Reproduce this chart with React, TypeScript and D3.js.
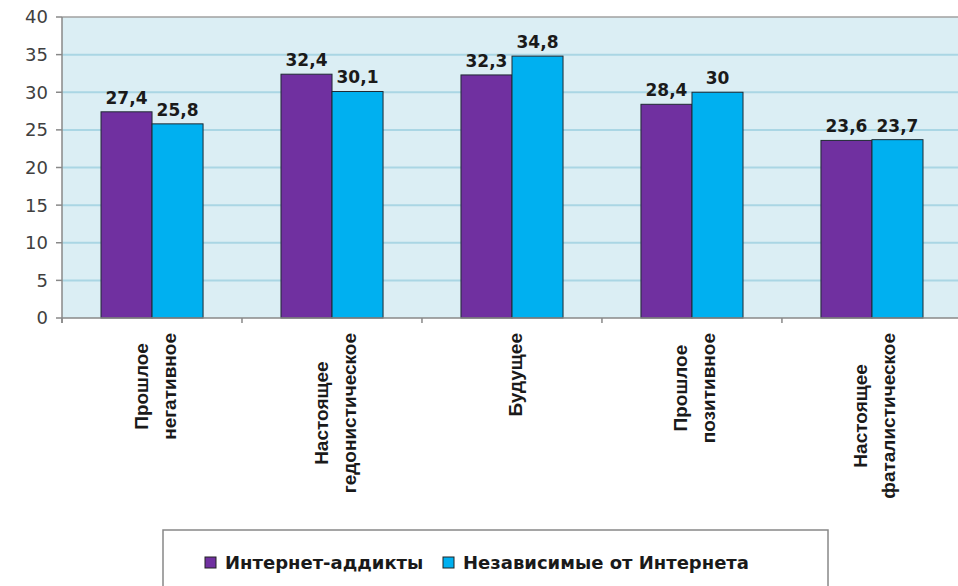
import React, { useEffect, useRef } from 'react';
import * as d3 from 'd3';

// categories (multi-line labels) and the two series
const categories = ['Прошлое негативное', 'Настоящее гедонистическое', 'Будущее', 'Прошлое позитивное', 'Настоящее фаталистическое'];
const categoryLines = [['Прошлое', 'негативное'], ['Настоящее', 'гедонистическое'], ['Будущее'], ['Прошлое', 'позитивное'], ['Настоящее', 'фаталистическое']];
const seriesNames = ['Интернет-аддикты', 'Независимые от Интернета'];
const addicts = [27.4, 32.4, 32.3, 28.4, 23.6];
const independent = [25.8, 30.1, 34.8, 30, 23.7];
const yTicks = [0, 5, 10, 15, 20, 25, 30, 35, 40];
const colors = ['#7030a0', '#00b0f0'];

const FONT = '"DejaVu Sans", Verdana, sans-serif';
const NARROW = '"Liberation Sans", Arial, sans-serif';

const App = () => {
  const svgRef = useRef(null);

  useEffect(() => {
    const width = 958;
    const height = 586;
    const left = 62;
    const top = 17;
    const bottom = 318;

    const svg = d3.select(svgRef.current);
    svg.selectAll('*').remove();
    svg.attr('width', width).attr('height', height);

    const x0 = d3.scaleBand()
      .domain(categories)
      .range([left, left + 180 * categories.length])
      .paddingInner(0.433)
      .paddingOuter(0.2167);

    const x1 = d3.scaleBand()
      .domain(seriesNames)
      .range([0, x0.bandwidth()]);

    const y = d3.scaleLinear()
      .domain([0, 40])
      .range([bottom, top]);

    // plot background
    svg.append('rect')
      .attr('x', left)
      .attr('y', top)
      .attr('width', width - left)
      .attr('height', bottom - top)
      .attr('fill', '#dbeef4');

    // gridlines
    svg.append('g')
      .selectAll('line')
      .data(yTicks.filter(d => d > 0 && d < 40))
      .enter()
      .append('line')
      .attr('x1', left)
      .attr('x2', width)
      .attr('y1', d => y(d))
      .attr('y2', d => y(d))
      .attr('stroke', '#aad6e4')
      .attr('stroke-width', 2);

    // top border
    svg.append('line')
      .attr('x1', left).attr('x2', width)
      .attr('y1', y(40)).attr('y2', y(40))
      .attr('stroke', '#a0a0a0').attr('stroke-width', 1.5);

    // y axis
    const yAxis = svg.append('g');
    yAxis.append('line')
      .attr('x1', left).attr('x2', left)
      .attr('y1', y(40)).attr('y2', y(0) + 5)
      .attr('stroke', '#888').attr('stroke-width', 1.5);
    yAxis.selectAll('.tick')
      .data(yTicks)
      .enter()
      .append('line')
      .attr('x1', left - 6).attr('x2', left)
      .attr('y1', d => y(d)).attr('y2', d => y(d))
      .attr('stroke', '#888').attr('stroke-width', 1.5);
    yAxis.selectAll('.lbl')
      .data(yTicks)
      .enter()
      .append('text')
      .attr('x', left - 14)
      .attr('y', d => y(d))
      .attr('dy', '0.36em')
      .attr('text-anchor', 'end')
      .attr('font-family', FONT)
      .attr('font-size', 18)
      .attr('fill', '#404040')
      .text(d => d);

    // bars
    const rows = categories.map((c, i) => ({ cat: c, values: [addicts[i], independent[i]] }));
    const groups = svg.append('g')
      .selectAll('g')
      .data(rows)
      .enter()
      .append('g')
      .attr('transform', d => `translate(${x0(d.cat)},0)`);

    groups.selectAll('rect')
      .data(d => d.values.map((v, k) => ({ name: seriesNames[k], v, k })))
      .enter()
      .append('rect')
      .attr('x', d => x1(d.name))
      .attr('y', d => y(d.v))
      .attr('width', x1.bandwidth())
      .attr('height', d => y(0) - y(d.v))
      .attr('fill', d => colors[d.k])
      .attr('stroke', '#1f2a33')
      .attr('stroke-width', 1);

    groups.selectAll('text')
      .data(d => d.values.map((v, k) => ({ name: seriesNames[k], v, k })))
      .enter()
      .append('text')
      .attr('x', d => x1(d.name) + x1.bandwidth() / 2)
      .attr('y', d => y(d.v) - 8)
      .attr('text-anchor', 'middle')
      .attr('font-family', FONT)
      .attr('font-weight', 'bold')
      .attr('font-size', 17)
      .attr('fill', '#1a1a1a')
      .text(d => String(d.v).replace('.', ','));

    // x axis
    svg.append('line')
      .attr('x1', left).attr('x2', width)
      .attr('y1', y(0)).attr('y2', y(0))
      .attr('stroke', '#888').attr('stroke-width', 1.5);
    svg.append('g')
      .selectAll('line')
      .data(d3.range(categories.length + 1))
      .enter()
      .append('line')
      .attr('x1', i => left + i * x0.step())
      .attr('x2', i => left + i * x0.step())
      .attr('y1', y(0)).attr('y2', y(0) + 5)
      .attr('stroke', '#888').attr('stroke-width', 1.5);

    // rotated category labels, lines centred, block top at axis
    categories.forEach((c, i) => {
      const lines = categoryLines[i];
      const cx = x0(c) + x0.bandwidth() / 2 + 3;
      const g = svg.append('g');
      const texts = lines.map(ln => g.append('text')
        .attr('font-family', NARROW)
        .attr('font-weight', 'bold')
        .attr('font-size', 19)
        .attr('fill', '#1a1a1a')
        .attr('text-anchor', 'middle')
        .attr('dominant-baseline', 'central')
        .text(ln));
      const maxLen = d3.max(texts, t => t.node().getComputedTextLength());
      const cy = 333 + maxLen / 2;
      texts.forEach((t, k) => {
        const lx = cx + (k - (lines.length - 1) / 2) * 28;
        t.attr('transform', `translate(${lx},${cy}) rotate(-90)`);
      });
    });

    // legend
    svg.append('rect')
      .attr('x', 163).attr('y', 530)
      .attr('width', 665).attr('height', 80)
      .attr('fill', '#fff')
      .attr('stroke', '#888').attr('stroke-width', 1.5);
    const legendX = [210, 448];
    seriesNames.forEach((name, k) => {
      svg.append('rect')
        .attr('x', legendX[k] - 5).attr('y', 557)
        .attr('width', 11).attr('height', 11)
        .attr('fill', colors[k])
        .attr('stroke', '#222').attr('stroke-width', 1);
      svg.append('text')
        .attr('x', legendX[k] + 15)
        .attr('y', 563)
        .attr('dy', '0.36em')
        .attr('font-family', FONT)
        .attr('font-weight', 'bold')
        .attr('font-size', 18)
        .attr('fill', '#1a1a1a')
        .text(name);
    });
  }, []);

  return (
    <div style={{ position: 'absolute', left: 0, top: 0 }}>
      <svg ref={svgRef} style={{ display: 'block' }}></svg>
    </div>
  );
};

export default App;
